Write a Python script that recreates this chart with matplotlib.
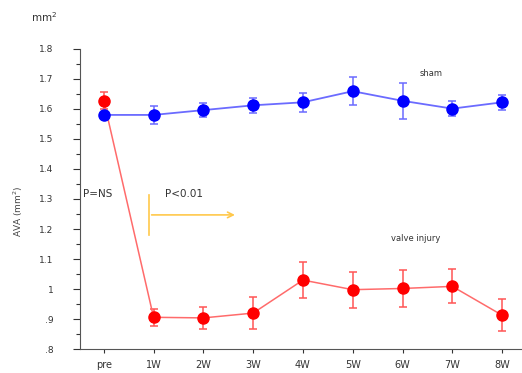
import numpy as np
import matplotlib
matplotlib.use("Agg")
import matplotlib.pyplot as plt

# ----------------------------
# Data
# ----------------------------
labels = ["pre", "1W", "2W", "3W", "4W", "5W", "6W", "7W", "8W"]

sham = [1.58, 1.58, 1.596, 1.612, 1.622, 1.659, 1.627, 1.601, 1.622]
sham_err = [0.008, 0.031, 0.024, 0.026, 0.032, 0.047, 0.06, 0.025, 0.024]

injury = [1.628, 0.906, 0.904, 0.92, 1.03, 0.998, 1.002, 1.009, 0.913]
injury_err = [0.027, 0.029, 0.037, 0.053, 0.06, 0.06, 0.063, 0.057, 0.053]

yticks = [0.8, 0.9, 1.0, 1.1, 1.2, 1.3, 1.4, 1.5, 1.6, 1.7, 1.8]
ytick_labels = [".8", ".9", "1", "1.1", "1.2", "1.3", "1.4", "1.5", "1.6", "1.7", "1.8"]

x = np.arange(len(labels))

# ----------------------------
# Plot
# ----------------------------
fig = plt.figure(figsize=(5.22, 3.73), dpi=100)
ax = fig.add_axes([0.153, 0.064, 0.847, 0.805])

ax.errorbar(x, sham, yerr=sham_err, color="#6b6bff", lw=1.3, ecolor="#6b6bff",
            elinewidth=1.1, capsize=3, capthick=1.1, marker="o", ms=8,
            mfc="#0000ff", mec="#0000ff", zorder=3)
ax.errorbar(x, injury, yerr=injury_err, color="#ff6b6b", lw=1.1, ecolor="#ff5555",
            elinewidth=1.1, capsize=3, capthick=1.1, marker="o", ms=8,
            mfc="#ff0000", mec="#ff0000", zorder=2)

ax.set_xlim(-0.48, 8.4)
ax.set_ylim(0.8, 1.8)

ax.set_xticks(x)
ax.set_xticklabels(labels, fontsize=7, color="#333333")
ax.set_yticks(yticks)
ax.set_yticklabels(ytick_labels, fontsize=6.5, color="#333333")
ax.set_yticks(np.arange(0.85, 1.8, 0.1), minor=True)

ax.tick_params(axis="y", which="major", length=5, width=0.8, pad=14, color="#333333")
ax.tick_params(axis="y", which="minor", length=3, width=0.8, color="#333333")
ax.tick_params(axis="x", length=3, width=0.8, pad=5, color="#333333")

ax.spines["top"].set_visible(False)
ax.spines["right"].set_visible(False)
ax.spines["left"].set_color("#555555")
ax.spines["bottom"].set_color("#555555")

ax.set_ylabel("AVA (mm$^2$)", fontsize=6.5, color="#444444")
ax.yaxis.set_label_coords(-0.125, 0.46)

fig.text(0.06, 0.955, "mm$^2$", fontsize=7.5, color="#333333", ha="left", va="center")

# annotations
ax.text(-0.42, 1.315, "P=NS", fontsize=7.5, color="#333333", va="center")
ax.text(1.23, 1.318, "P<0.01", fontsize=7.5, color="#333333", va="center")
ax.plot([0.905, 0.905], [1.18, 1.313], color="#ffc84a", lw=1.2)
ax.annotate("", xy=(2.69, 1.247), xytext=(0.905, 1.247),
            arrowprops=dict(arrowstyle="->", color="#ffc84a", lw=1.2))
ax.text(6.57, 1.717, "sham", fontsize=6, color="#333333", ha="center", va="center")
ax.text(6.27, 1.17, "valve injury", fontsize=6, color="#333333", ha="center", va="center")

plt.savefig("out.png", dpi=100)
